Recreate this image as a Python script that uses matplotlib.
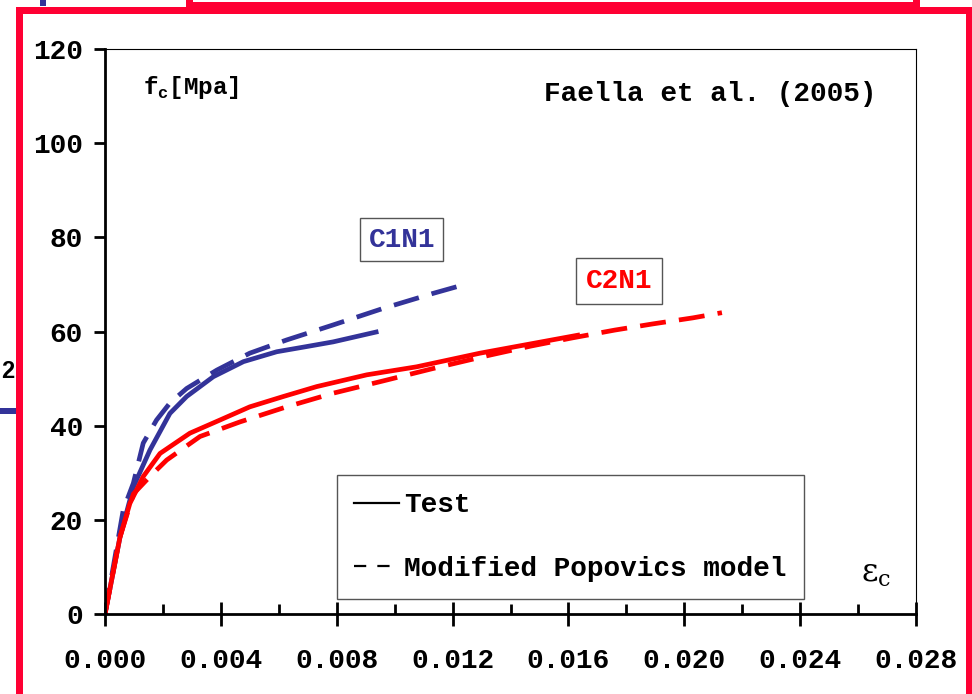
import matplotlib.pyplot as plt
from matplotlib.lines import Line2D
from matplotlib.patches import Rectangle

# strain / stress readings for the two specimens
c1n1_test_eps = [0, 0.00052, 0.00098, 0.00155, 0.00224, 0.00282, 0.00374, 0.00478,
                 0.00593, 0.00696, 0.00788, 0.00944]
c1n1_test_fc = [0, 16.4, 27.0, 34.8, 42.6, 46.2, 50.4, 53.6, 55.7, 56.8, 57.8, 60.0]

c1n1_model_eps = [0, 0.00063, 0.00098, 0.00132, 0.00178, 0.00224, 0.00282, 0.00386,
                  0.0050, 0.00627, 0.00788, 0.0096, 0.01133, 0.01237]
c1n1_model_fc = [0, 22.1, 27.8, 36.3, 41.2, 44.8, 47.9, 51.8, 55.4, 58.2, 61.4, 64.9, 68.1, 69.9]

c2n1_test_eps = [0, 0.00052, 0.00086, 0.00132, 0.0019, 0.00293, 0.00397, 0.0050,
                 0.00616, 0.00731, 0.00904, 0.01076, 0.01295, 0.0164]
c2n1_test_fc = [0, 16.4, 23.5, 29.2, 34.1, 38.4, 41.2, 44.0, 46.2, 48.3, 50.8, 52.5, 55.4, 59.3]

c2n1_model_eps = [0, 0.0005, 0.00098, 0.00155, 0.00213, 0.00328, 0.00466, 0.00627,
                  0.00788, 0.0096, 0.0113, 0.0133, 0.0147, 0.0161, 0.0176, 0.0189, 0.0203, 0.0213]
c2n1_model_fc = [0, 16.0, 25.5, 29.2, 32.7, 37.7, 40.8, 44.0, 46.9, 49.5, 52.1, 55.0,
                 56.9, 58.6, 60.3, 61.6, 62.9, 64.0]

x_ticks = [0.000, 0.004, 0.008, 0.012, 0.016, 0.020, 0.024, 0.028]
y_ticks = [0, 20, 40, 60, 80, 100, 120]

BLUE = '#333399'
RED = '#FF0000'
FRAME = '#FF0033'
MONO = 'Liberation Mono'

W, H = 972, 694
fig = plt.figure(figsize=(W / 100, H / 100), dpi=100)
fig.patch.set_facecolor('white')


def px_rect(x0, y0, x1, y1, color):
    # rectangle given in pixel coords, origin at top left
    fig.add_artist(Rectangle((x0 / W, 1 - y1 / H), (x1 - x0) / W, (y1 - y0) / H,
                             transform=fig.transFigure, facecolor=color,
                             edgecolor='none', zorder=0))


# slide frame around the plot
px_rect(16, 7, 972, 14, FRAME)
px_rect(16, 7, 23, 694, FRAME)
px_rect(966, 7, 972, 694, FRAME)
px_rect(186, 2, 920, 9, FRAME)
px_rect(186, 0, 193, 14, FRAME)
px_rect(913, 0, 920, 9, FRAME)
px_rect(40, 0, 46, 6, BLUE)
px_rect(0, 408, 16, 414, BLUE)
fig.text(1 / W, 1 - 372 / H, '2', fontsize=17, fontweight='bold', family='Liberation Sans',
         ha='left', va='center')

ax = fig.add_axes([105 / W, 1 - 614 / H, 811 / W, 565 / H])

ax.plot(c1n1_test_eps, c1n1_test_fc, color=BLUE, lw=3.4, solid_capstyle='butt',
        solid_joinstyle='round')
ax.plot(c1n1_model_eps, c1n1_model_fc, color=BLUE, lw=3.4, dashes=(5.5, 2.8))
ax.plot(c2n1_test_eps, c2n1_test_fc, color=RED, lw=3.4, solid_capstyle='butt',
        solid_joinstyle='round')
ax.plot(c2n1_model_eps, c2n1_model_fc, color=RED, lw=3.4, dashes=(5.5, 2.8))

ax.set_xlim(0, 0.028)
ax.set_ylim(0, 120)
ax.set_xticks(x_ticks)
ax.set_xticklabels([f'{v:.3f}' for v in x_ticks])
ax.set_xticks([0.002, 0.006, 0.010, 0.014, 0.018, 0.022, 0.026], minor=True)
ax.set_yticks(y_ticks)
ax.set_yticklabels([str(v) for v in y_ticks])

for lab in ax.get_xticklabels() + ax.get_yticklabels():
    lab.set_family(MONO)
    lab.set_fontweight('bold')
    lab.set_fontsize(20)

ax.tick_params(axis='x', which='major', direction='inout', length=17, width=2, pad=16)
ax.tick_params(axis='x', which='minor', direction='in', length=7, width=2)
ax.tick_params(axis='y', which='major', direction='out', length=8, width=2, pad=8)

for side in ['left', 'bottom']:
    ax.spines[side].set_linewidth(2)
for side in ['top', 'right']:
    ax.spines[side].set_linewidth(0.8)

ax.text(0.047, 0.932, r'f$_\mathregular{c}$[Mpa]', transform=ax.transAxes,
        family=MONO, fontweight='bold', fontsize=17.5, ha='left', va='center')
ax.text(0.951, 0.921, 'Faella et al. (2005)', transform=ax.transAxes,
        family=MONO, fontweight='bold', fontsize=20, ha='right', va='center')
ax.text(0.951, 0.072, r'ε$_\mathregular{c}$', transform=ax.transAxes,
        family='DejaVu Serif', fontsize=23, ha='center', va='center')

ax.text(0.01025, 79.5, 'C1N1', color=BLUE, family=MONO, fontweight='bold', fontsize=20,
        ha='center', va='center',
        bbox=dict(boxstyle='square,pad=0.3', facecolor='white', edgecolor='#555555', lw=1))
ax.text(0.01776, 70.7, 'C2N1', color=RED, family=MONO, fontweight='bold', fontsize=20,
        ha='center', va='center',
        bbox=dict(boxstyle='square,pad=0.35', facecolor='white', edgecolor='#555555', lw=1))

handles = [Line2D([], [], color='black', lw=1.6),
           Line2D([], [], color='black', lw=1.6, dashes=(5.5, 5))]
leg = ax.legend(handles, ['Test', 'Modified Popovics model'], loc='lower left',
                bbox_to_anchor=(0.286, 0.0265),
                prop={'family': MONO, 'weight': 'bold', 'size': 20},
                frameon=True, fancybox=False, framealpha=1, edgecolor='#555555',
                borderpad=0.62, labelspacing=1.35, handlelength=1.6, handletextpad=0.2,
                borderaxespad=0)
leg.get_frame().set_linewidth(1)

fig.savefig('out.png', dpi=100)
